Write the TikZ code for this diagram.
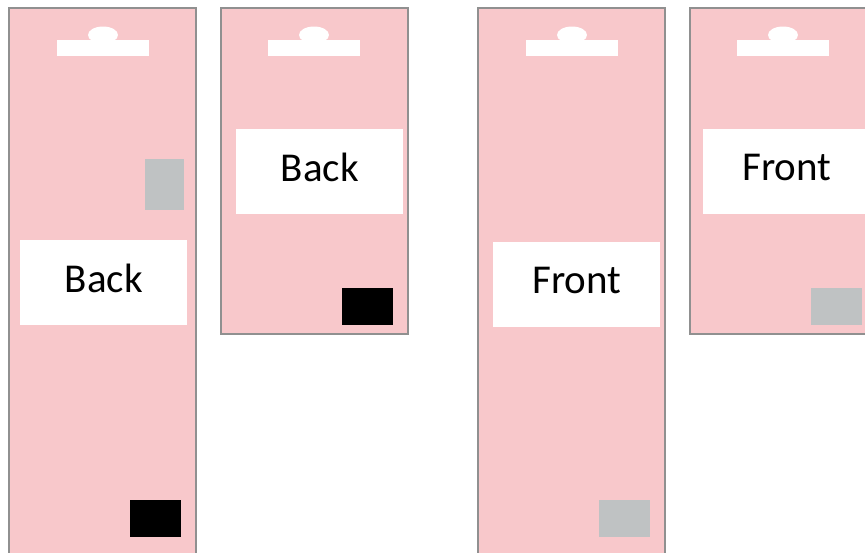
\documentclass[tikz,border=0pt]{standalone}
\usepackage{fontspec}
\setmainfont{Carlito}
\definecolor{cardpink}{HTML}{F8C8CB}
\definecolor{cardedge}{HTML}{909090}
\definecolor{chipgray}{HTML}{BFC2C3}
\begin{document}
\begin{tikzpicture}[x=1pt,y=-1pt,
  card/.style={fill=cardpink,draw=cardedge,line width=1.3pt},
  labelbox/.style={fill=white,draw=none,inner sep=0pt,minimum width=167pt,minimum height=85pt,anchor=north west,font=\fontsize{41}{41}\selectfont},
  hole/.style={fill=white,draw=none}]
\useasboundingbox (0,0) rectangle (865,552);
\clip (0,0) rectangle (865,552);
% cards
\draw[card] (9,8) rectangle (196,560);
\draw[card] (221,8) rectangle (408,334);
\draw[card] (478,8) rectangle (665,560);
\draw[card] (690,8) rectangle (880,334);
% hangers
\foreach \cx in {103,314,572,783}{
  \fill[hole] (\cx-46,40) rectangle (\cx+46,56);
  \fill[hole] (\cx,35) ellipse [x radius=15, y radius=8.5];
}
% labels
\node[labelbox] (b1) at (20,240) {\raisebox{9pt}{Back}};
\node[labelbox] (b2) at (236,129) {\raisebox{9pt}{Back}};
\node[labelbox] (f1) at (493,242) {\raisebox{9pt}{Front}};
\node[labelbox] (f2) at (703,129) {\raisebox{9pt}{Front}};
% chips
\fill[chipgray] (145,159) rectangle (184,210);
\fill[black] (130,500) rectangle (181,537);
\fill[black] (342,288) rectangle (393,325);
\fill[chipgray] (599,500) rectangle (650,537);
\fill[chipgray] (811,288) rectangle (862,325);
\end{tikzpicture}
\end{document}
